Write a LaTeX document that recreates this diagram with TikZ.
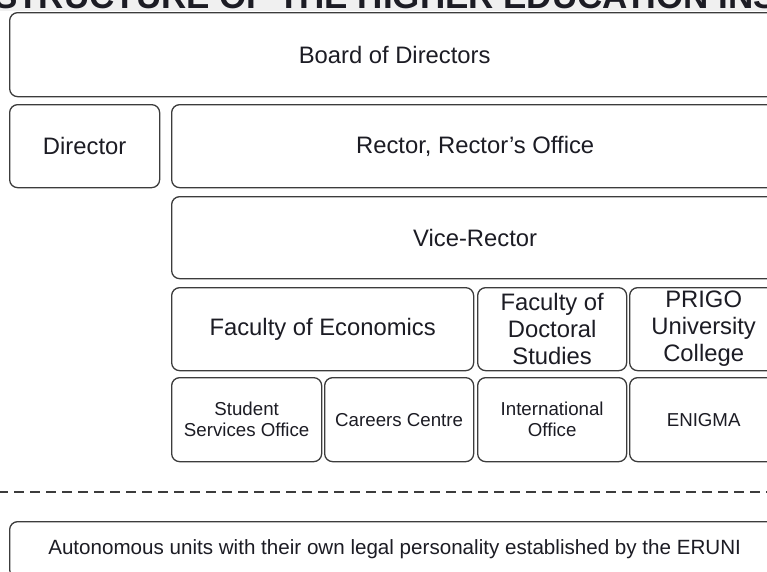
\documentclass[tikz,border=0pt]{standalone}
\usepackage{fontspec}
\setmainfont{Liberation Sans}
\definecolor{boxline}{HTML}{3C3C3C}
\definecolor{ink}{HTML}{1C1C24}
\definecolor{band}{HTML}{F0F0F0}
\tikzset{
  unit/.style={draw=boxline, line width=1.3pt, rounded corners=8pt, fill=white,
    text=ink, align=center, inner sep=0pt, anchor=north west},
  bigtext/.style={font=\fontsize{23.8}{27}\selectfont},
  smalltext/.style={font=\fontsize{18.7}{21}\selectfont},
  notetext/.style={font=\fontsize{20.6}{23}\selectfont},
  box/.style n args={2}{unit, minimum width=#1pt, minimum height=#2pt},
}
\begin{document}
\begin{tikzpicture}[x=1pt,y=-1pt]
\useasboundingbox (0,0) rectangle (767,571);
\clip (0,0) rectangle (767,571);

% heading strip at the top
\fill[band] (0,0) rectangle (767,11);
\node[anchor=base west, inner sep=0pt, text=ink,
      font=\fontsize{35}{40}\selectfont\bfseries] (title) at (-330,8)
  {ORGANIZATIONAL STRUCTURE OF THE HIGHER EDUCATION INSTITUTION};

% governing bodies
\node[box={770}{84}, bigtext] (board) at (9,12) {Board of Directors};
\node[box={150}{83}, bigtext] (director) at (9,104) {Director};
\node[box={607}{83}, bigtext] (rector) at (171,104) {Rector, Rector’s Office};
\node[box={607}{82}, bigtext] (vice) at (171,196) {Vice-Rector};

% faculties
\node[box={302}{83}, bigtext] (econ) at (171,287) {Faculty of Economics};
\node[box={149}{83}, bigtext] (doct) at (477,287) {Faculty of\\Doctoral\\Studies};
\node[box={148}{83}, bigtext] (prigo) at (629,287) {PRIGO\\University\\College};

% offices
\node[box={150}{84}, smalltext] (students) at (171,377) {Student\\Services Office};
\node[box={149}{84}, smalltext] (careers) at (324,377) {Careers Centre};
\node[box={149}{84}, smalltext] (intl) at (477,377) {International\\Office};
\node[box={148}{84}, smalltext] (enigma) at (629,377) {ENIGMA};

% boundary to autonomous units
\coordinate (sepL) at (-2,492);
\coordinate (sepR) at (770,492);
\draw[boxline, line width=2.6pt, dash pattern=on 10pt off 6pt] (sepL) -- (sepR);

\node[box={770}{56}, notetext] (auto) at (9,521)
  {Autonomous units with their own legal personality established by the ERUNI};
\end{tikzpicture}
\end{document}
